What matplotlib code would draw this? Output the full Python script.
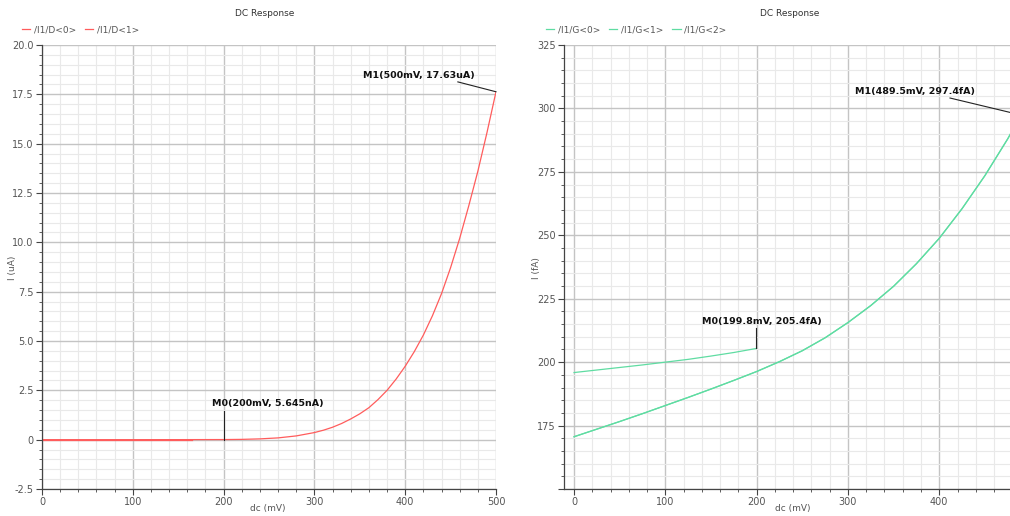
import numpy as np
import matplotlib
matplotlib.use('Agg')
import matplotlib.pyplot as plt
from matplotlib.ticker import MultipleLocator, FuncFormatter

# drain current sweep (dc in mV, current in uA)
dc_d = [0, 50, 100, 150, 200, 220, 240, 260, 280, 300, 310, 320, 330, 340, 350, 360, 370, 380, 390,
        400, 410, 420, 430, 440, 450, 460, 470, 480, 490, 500]
id0 = [0.00001, 0.0001, 0.0006, 0.002, 0.005645, 0.015, 0.04, 0.09, 0.19, 0.36, 0.48, 0.63, 0.82, 1.05,
       1.31, 1.62, 2.03, 2.5, 3.07, 3.72, 4.46, 5.3, 6.28, 7.4, 8.72, 10.2, 11.85, 13.6, 15.55, 17.63]
dc_d1 = [0, 40, 80, 120, 165]
id1 = [-0.02, -0.02, -0.02, -0.02, -0.02]

# gate current sweep (dc in mV, current in fA)
dc_g0 = [0, 25, 50, 75, 100, 125, 150, 175, 199.8]
ig0 = [195.9, 196.9, 197.9, 198.9, 200.0, 201.1, 202.4, 203.8, 205.4]
dc_g1 = [0, 25, 50, 75, 100, 125, 150, 175, 200, 225, 250, 275, 300, 325, 350, 375, 400, 425, 450, 475,
         489.5, 500]
ig1 = [170.6, 173.6, 176.6, 179.7, 182.9, 186.1, 189.4, 192.8, 196.3, 200.2, 204.5, 209.6, 215.6, 222.3,
       229.9, 238.8, 248.8, 260.5, 273.5, 288.0, 297.4, 304.0]
ig2 = ig1

markers_d = [(200, 0.005645, 'M0(200mV, 5.645nA)'), (500, 17.63, 'M1(500mV, 17.63uA)')]
markers_g = [(199.8, 205.4, 'M0(199.8mV, 205.4fA)'), (489.5, 297.4, 'M1(489.5mV, 297.4fA)')]

red = '#ff5c5c'
green = '#5fdca2'
txt = '#555555'

plt.rcParams['font.family'] = 'DejaVu Sans'
fig = plt.figure(figsize=(10.1, 5.16), dpi=100)
ax1 = fig.add_axes([42/1010, 27/516, 454/1010, 444/516])
ax2 = fig.add_axes([564/1010, 27/516, 446/1010, 444/516])


def style(ax):
    for s in ['top', 'right']:
        ax.spines[s].set_visible(False)
    for s in ['left', 'bottom']:
        ax.spines[s].set_color('#444444')
        ax.spines[s].set_linewidth(0.9)
    ax.grid(which='major', color='#c4c4c4', linewidth=1.0)
    ax.grid(which='minor', color='#e9e9e9', linewidth=0.8)
    ax.set_axisbelow(True)
    ax.tick_params(which='major', direction='out', length=4, width=0.8, color='#444444',
                   labelsize=7, labelcolor=txt, pad=2)
    ax.tick_params(which='minor', direction='out', length=2, width=0.6, color='#444444')


# left: drain current
ax1.plot(dc_d, id0, color=red, lw=0.9, label='/I1/D<0>')
ax1.plot(dc_d1, id1, color=red, lw=0.9, label='/I1/D<1>')
ax1.set_xlim(0, 500)
ax1.set_ylim(-2.5, 20)
ax1.xaxis.set_major_locator(MultipleLocator(100))
ax1.xaxis.set_minor_locator(MultipleLocator(20))
ax1.yaxis.set_major_locator(MultipleLocator(2.5))
ax1.yaxis.set_minor_locator(MultipleLocator(0.5))
ax1.yaxis.set_major_formatter(FuncFormatter(lambda v, p: '0' if abs(v) < 1e-9 else f'{v:.1f}'))
style(ax1)

# right: gate current
ax2.plot(dc_g0, ig0, color=green, lw=0.9, label='/I1/G<0>')
ax2.plot(dc_g1, ig1, color=green, lw=0.9, label='/I1/G<1>')
ax2.plot(dc_g1, ig2, color=green, lw=0.9, label='/I1/G<2>')
ax2.set_xlim(-11, 477.5)
ax2.set_ylim(150, 325)
ax2.xaxis.set_major_locator(MultipleLocator(100))
ax2.xaxis.set_minor_locator(MultipleLocator(20))
ax2.yaxis.set_major_locator(MultipleLocator(25))
ax2.yaxis.set_minor_locator(MultipleLocator(5))
ax2.yaxis.set_major_formatter(FuncFormatter(lambda v, p: '' if v < 160 else f'{v:.0f}'))
style(ax2)

# marker annotations
mk = dict(fontsize=6.8, fontweight='bold', color='#111111', va='center')
x, y, s = markers_d[0]
ax1.plot([x, x], [y, 1.45], color='#222222', lw=0.8)
ax1.text(187, 1.81, s, **mk)
x, y, s = markers_d[1]
ax1.plot([458, x], [18.13, y], color='#222222', lw=0.8, clip_on=False)
ax1.text(353.5, 18.43, s, **mk)

x, y, s = markers_g[0]
ax2.plot([x, x], [y, 213.3], color='#222222', lw=0.8)
ax2.text(140.2, 216.0, s, **mk)
x, y, s = markers_g[1]
ax2.plot([411.8, x], [304.1, y], color='#222222', lw=0.8)
ax2.text(307.8, 306.8, s, **mk)

# titles, legends, axis labels
for xc in (265, 790):
    fig.text(xc/1010, 1 - 13/516, 'DC Response', ha='center', va='center', fontsize=6.5, color='#333333')
leg_kw = dict(loc='center left', frameon=False, fontsize=6.5, handlelength=0.9, handletextpad=0.4,
              columnspacing=1.0, labelcolor=txt)
ax1.legend(ncol=2, bbox_to_anchor=(14/1010, 1 - 30/516), bbox_transform=fig.transFigure, **leg_kw)
ax2.legend(ncol=3, bbox_to_anchor=(538/1010, 1 - 30/516), bbox_transform=fig.transFigure, **leg_kw)

fig.text(12/1010, 1 - 268/516, 'I (uA)', rotation=90, ha='center', va='center', fontsize=6.5, color=txt)
fig.text(536/1010, 1 - 268/516, 'I (fA)', rotation=90, ha='center', va='center', fontsize=6.5, color=txt)
fig.text(268/1010, 1 - 508/516, 'dc (mV)', ha='center', va='center', fontsize=6.5, color=txt)
fig.text(793/1010, 1 - 508/516, 'dc (mV)', ha='center', va='center', fontsize=6.5, color=txt)

fig.savefig('out.png', dpi=100)
